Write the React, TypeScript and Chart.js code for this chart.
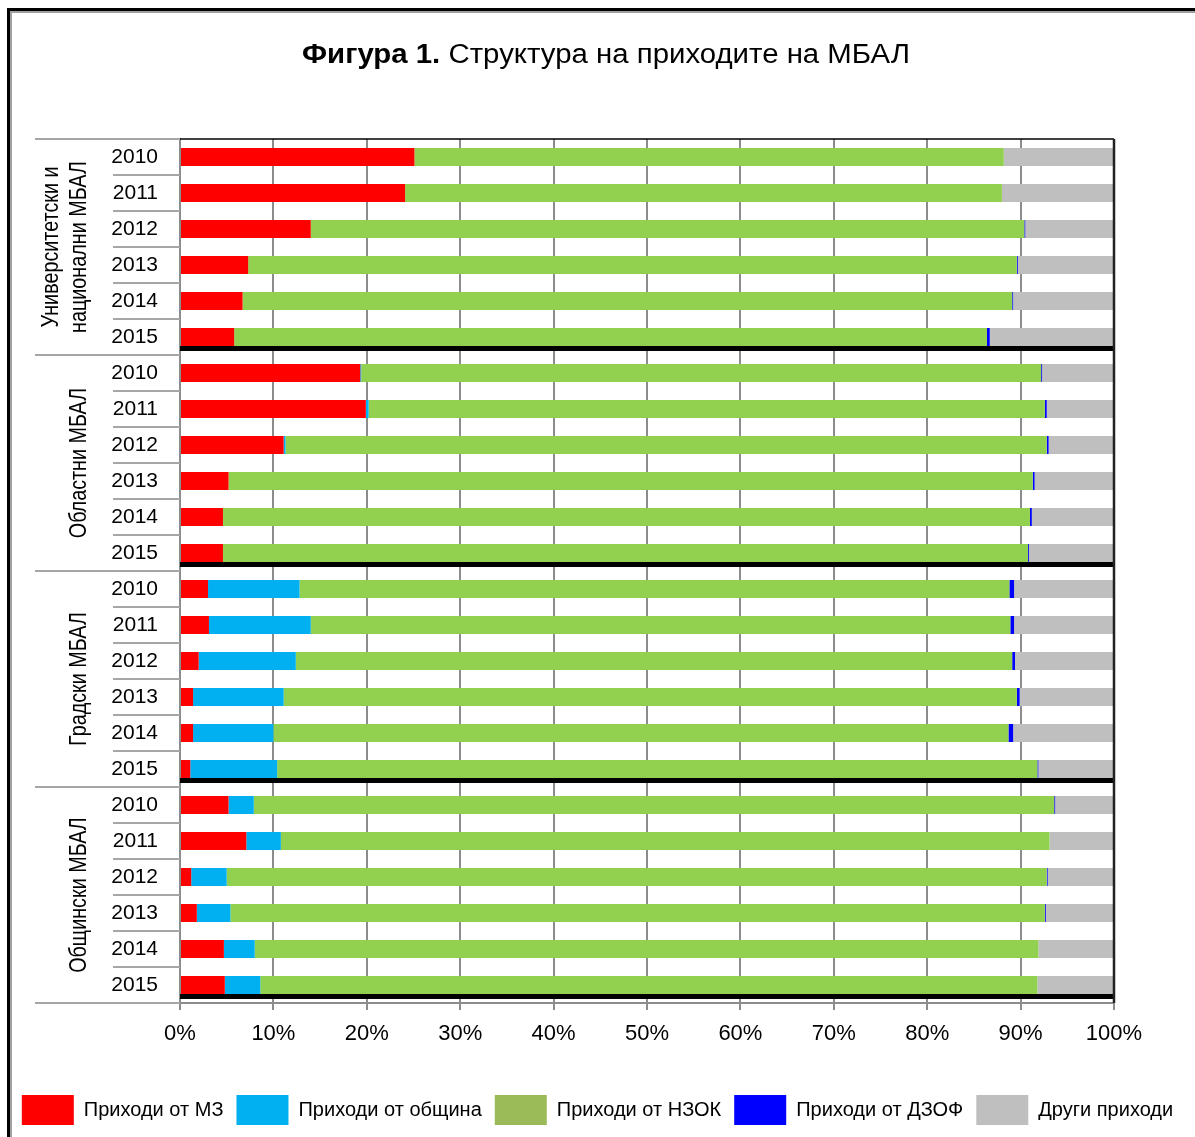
import React, { useEffect, useRef } from "react";
import { Chart, registerables } from "chart.js";

Chart.register(...registerables);

const years = ["2010", "2011", "2012", "2013", "2014", "2015"];
const categories = [...years, ...years, ...years, ...years];
const groupNames: string[][] = [
  ["Университетски и", "национални МБАЛ"],
  ["Областни МБАЛ"],
  ["Градски МБАЛ"],
  ["Общински МБАЛ"],
];
const xTickValues = [0, 10, 20, 30, 40, 50, 60, 70, 80, 90, 100];

const seriesNames = ["Приходи от МЗ", "Приходи от община", "Приходи от НЗОК", "Приходи от ДЗОФ", "Други приходи"];

const mzValues = [25.1, 24.1, 14.0, 7.3, 6.7, 5.8, 19.3, 19.9, 11.1, 5.2, 4.6, 4.6, 3.0, 3.1, 2.0, 1.4, 1.4, 1.1, 5.2, 7.1, 1.2, 1.8, 4.7, 4.8];
const obshtinaValues = [0, 0, 0, 0, 0, 0, 0.1, 0.3, 0.2, 0, 0, 0, 9.8, 10.9, 10.4, 9.7, 8.6, 9.3, 2.7, 3.7, 3.8, 3.6, 3.3, 3.8];
const nzokValues = [63.1, 63.9, 76.4, 82.3, 82.4, 80.6, 72.8, 72.4, 81.5, 86.1, 86.4, 86.2, 76.0, 74.9, 76.7, 78.5, 78.7, 81.4, 85.7, 82.3, 87.8, 87.2, 83.9, 83.2];
const dzofValues = [0, 0, 0.1, 0.1, 0.1, 0.3, 0.1, 0.2, 0.2, 0.2, 0.2, 0.1, 0.5, 0.4, 0.3, 0.3, 0.5, 0.1, 0.1, 0, 0.1, 0.1, 0, 0];
const drugiValues = [11.8, 12.0, 9.5, 10.3, 10.8, 13.3, 7.7, 7.2, 7.0, 8.5, 8.8, 9.1, 10.7, 10.7, 10.6, 10.1, 10.8, 8.1, 6.3, 6.9, 7.1, 7.3, 8.1, 8.2];

const seriesColors = ["#FF0000", "#00B0F0", "#92D050", "#0000FF", "#BFBFBF"];
const legendColors = ["#FF0000", "#00B0F0", "#9BBB59", "#0000FF", "#BFBFBF"];

const FONT = "'Liberation Sans', Arial, sans-serif";

const figurePlugin = {
  id: "figurePlugin",
  beforeDraw(chart: any) {
    const ctx = chart.ctx as CanvasRenderingContext2D;
    ctx.save();
    ctx.fillStyle = "#ffffff";
    ctx.fillRect(0, 0, chart.width, chart.height);
    // outer frame
    ctx.fillStyle = "#000000";
    ctx.fillRect(7, 8, chart.width - 7, 3);
    ctx.fillRect(7, 8, 3, chart.height - 8);
    ctx.fillStyle = "#a0a0a0";
    ctx.fillRect(10, 11, chart.width - 10, 2);
    ctx.fillRect(10, 11, 2, chart.height - 11);
    // title
    const boldPart = "Фигура 1.";
    const normalPart = " Структура на приходите на МБАЛ";
    const size = 27;
    ctx.font = `bold ${size}px ${FONT}`;
    const w1 = ctx.measureText(boldPart).width;
    ctx.font = `${size}px ${FONT}`;
    const w2 = ctx.measureText(normalPart).width;
    const targetW = 608;
    const sx = targetW / (w1 + w2);
    ctx.translate(606 - targetW / 2, 56);
    ctx.scale(sx, 1);
    ctx.fillStyle = "#000";
    ctx.textBaseline = "middle";
    ctx.textAlign = "left";
    ctx.font = `bold ${size}px ${FONT}`;
    ctx.fillText(boldPart, 0, 0);
    ctx.font = `${size}px ${FONT}`;
    ctx.fillText(normalPart, w1, 0);
    ctx.restore();
  },
  afterDatasetsDraw(chart: any) {
    const ctx = chart.ctx as CanvasRenderingContext2D;
    const y = chart.scales.y;
    const area = chart.chartArea;
    const step = y.getPixelForValue(1) - y.getPixelForValue(0);
    const halfBar = step * 0.25;
    ctx.save();
    ctx.fillStyle = "#000";
    for (let g = 0; g < groupNames.length; g++) {
      const idx = g * years.length + years.length - 1;
      const py = y.getPixelForValue(idx) + halfBar;
      ctx.fillRect(area.left, py, area.right - area.left, 5);
    }
    ctx.restore();
  },
  afterDraw(chart: any) {
    const ctx = chart.ctx as CanvasRenderingContext2D;
    const y = chart.scales.y;
    const area = chart.chartArea;
    const step = y.getPixelForValue(1) - y.getPixelForValue(0);
    ctx.save();
    // left table lines
    ctx.strokeStyle = "#a6a6a6";
    ctx.lineWidth = 2;
    for (let i = 0; i <= categories.length; i++) {
      const py = Math.round(y.getPixelForValue(i) - step / 2);
      const x0 = i % years.length === 0 ? 35 : 113;
      ctx.beginPath();
      ctx.moveTo(x0, py);
      ctx.lineTo(area.left, py);
      ctx.stroke();
    }
    // top and right border of plot
    ctx.strokeStyle = "#000";
    ctx.lineWidth = 1.5;
    ctx.beginPath();
    ctx.moveTo(area.left, area.top);
    ctx.lineTo(area.right, area.top);
    ctx.stroke();
    ctx.strokeStyle = "#222";
    ctx.lineWidth = 2.5;
    ctx.beginPath();
    ctx.moveTo(area.right, area.top);
    ctx.lineTo(area.right, area.bottom);
    ctx.stroke();
    // group labels
    ctx.fillStyle = "#000";
    ctx.textAlign = "center";
    ctx.textBaseline = "middle";
    ctx.font = `23px ${FONT}`;
    for (let g = 0; g < groupNames.length; g++) {
      const first = g * years.length;
      const last = first + years.length - 1;
      const cy = (y.getPixelForValue(first) + y.getPixelForValue(last)) / 2;
      const lines = groupNames[g];
      lines.forEach((line, li) => {
        const cx = 80 - (lines.length - 1 - li) * 28;
        ctx.save();
        ctx.translate(cx, cy);
        ctx.rotate(-Math.PI / 2);
        ctx.scale(0.86, 1);
        ctx.fillText(line, 0, 0);
        ctx.restore();
      });
    }
    ctx.restore();
  },
};

export default function App() {
  const canvasRef = useRef<HTMLCanvasElement | null>(null);

  useEffect(() => {
    if (!canvasRef.current) return;
    Chart.defaults.font.family = FONT;
    Chart.defaults.color = "#000";
    const valueSets = [mzValues, obshtinaValues, nzokValues, dzofValues, drugiValues];
    const chart = new Chart(canvasRef.current, {
      type: "bar",
      data: {
        labels: categories,
        datasets: valueSets.map((vals, i) => ({
          label: seriesNames[i],
          data: vals,
          backgroundColor: seriesColors[i],
          borderWidth: 0,
          barPercentage: 0.5,
          categoryPercentage: 1.0,
        })),
      },
      options: {
        indexAxis: "y",
        responsive: false,
        animation: false,
        layout: { padding: { top: 139, right: 0, left: 0, bottom: 2 } },
        scales: {
          x: {
            stacked: true,
            min: 0,
            max: 100,
            afterBuildTicks: (scale: any) => {
              scale.ticks = xTickValues.map((v) => ({ value: v }));
            },
            ticks: {
              callback: (v: any) => `${v}%`,
              font: { size: 22 },
              color: "#000",
              padding: 11,
              maxRotation: 0,
            },
            grid: { color: "#8c8c8c", lineWidth: 2, tickLength: 7 },
            border: { color: "#8c8c8c", width: 2 },
            afterFit: (scale: any) => {
              scale.height = 79;
            },
          },
          y: {
            stacked: true,
            ticks: { font: { size: 21 }, color: "#000", padding: 22, autoSkip: false },
            grid: { display: true, drawOnChartArea: false, drawTicks: false },
            border: { color: "#8c8c8c", width: 2 },
            afterFit: (scale: any) => {
              scale.width = 180;
            },
          },
          yRight: {
            type: "linear",
            position: "right",
            display: true,
            ticks: { display: false },
            grid: { display: false },
            border: { display: false },
            afterFit: (scale: any) => {
              scale.width = 81;
            },
          },
        },
        plugins: {
          title: { display: false },
          tooltip: { enabled: false },
          legend: {
            position: "bottom",
            labels: {
              boxWidth: 52,
              boxHeight: 30,
              padding: 13,
              font: { size: 20 },
              color: "#000",
              generateLabels: (c: any) => {
                const items = Chart.defaults.plugins.legend.labels.generateLabels(c);
                return items.map((it: any, i: number) => ({
                  ...it,
                  fillStyle: legendColors[i],
                  strokeStyle: legendColors[i],
                  lineWidth: 0,
                }));
              },
            },
          },
        },
      },
      plugins: [figurePlugin],
    });
    return () => chart.destroy();
  }, []);

  return (
    <div style={{ position: "fixed", left: 0, top: 0, width: 1195, height: 1137 }}>
      <canvas ref={canvasRef} width={1195} height={1137} style={{ display: "block" }} />
    </div>
  );
}
